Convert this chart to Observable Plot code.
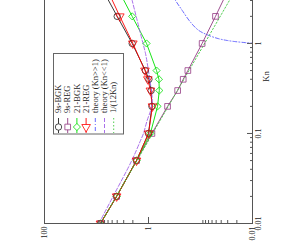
<!DOCTYPE html>
<html><head><meta charset="utf-8">
<script src="https://cdn.jsdelivr.net/npm/d3@7"></script>
<script src="https://cdn.jsdelivr.net/npm/@observablehq/plot@0.6"></script>
<style>html,body{margin:0;padding:0;background:#fff;overflow:hidden}</style>
</head><body><div id="chart"></div>
<script>
// Knudsen numbers of the simulated points
const kn = [0.01, 0.02, 0.05, 0.1, 0.2, 0.3, 0.4, 0.5, 1, 2, 5];
const bgk9  = [8.4, 4.1, 1.7, 1.0, 0.86, 0.89, 0.98, 1.15, 2.06, 4.0, 9.5];
const reg9  = [8.4, 4.1, 1.7, 0.86, 0.43, 0.275, 0.215, 0.175, 0.093, 0.0515, 0.024];
const bgk21 = [8.4, 4.1, 1.7, 0.92, 0.67, 0.62, 0.63, 0.70, 1.09, 2.06, 4.7];
const reg21 = [8.4, 4.1, 1.7, 1.0, 0.84, 0.92, 1.03, 1.17, 2.0, 3.56, 7.5];
// theory curves
const lowKn  = [0.01, 0.02, 0.05, 0.083, 0.1, 0.14, 0.18, 0.23, 0.3, 0.39, 0.55, 0.77, 1.08, 1.8, 3, 5];
const lowVal = [9.0, 4.8, 2.1, 1.43, 1.25, 1.06, 0.91, 0.85, 0.88, 0.94, 1.03, 1.14, 1.32, 1.65, 2.06, 2.56];
const highKn  = [1.0, 1.02, 1.05, 1.08, 1.128, 1.227, 1.395, 1.725, 2.33, 3.0, 4.0];
const highVal = [0.009, 0.0135, 0.022, 0.031, 0.0446, 0.069, 0.108, 0.156, 0.225, 0.302, 0.4];
const asymKn  = [0.01, 5];
const asymVal = [8.33, 0.0167];
// ticks
const xMajor = [100, 1, 0.01];
const xMinor = [9, 8, 7, 6, 5, 4, 3, 2, 0.09, 0.08, 0.07, 0.06, 0.05, 0.04, 0.03, 0.02];
const yMajor = [0.01, 0.1, 1];
const yMinor = [0.02, 0.03, 0.04, 0.05, 0.06, 0.07, 0.08, 0.09, 0.2, 0.3, 0.4, 0.5, 0.6, 0.7, 0.8, 0.9, 2, 3];

const rows = (ks, vs) => ks.map((k, i) => ({kn: k, v: vs[i]}));
const series = [
  {label: "9s-BGK", data: rows(kn, bgk9), color: "#222222", symbol: "circle", d3s: d3.symbolCircle, rot: 0},
  {label: "9s-REG", data: rows(kn, reg9), color: "#933a83", symbol: "square", d3s: d3.symbolSquare, rot: 0},
  {label: "21-BGK", data: rows(kn, bgk21), color: "#00e000", symbol: "diamond2", d3s: d3.symbolDiamond2, rot: 0},
  {label: "21-REG", data: rows(kn, reg21), color: "#ff0000", symbol: "triangle", d3s: d3.symbolTriangle, rot: 180}
];
const theories = [
  {label: "theory (Kn>>1)", data: rows(highKn, highVal), color: "#5a5aff", dash: "4,2,1,2"},
  {label: "theory (Kn<<1)", data: rows(lowKn, lowVal), color: "#a060e8", dash: "4,2"},
  {label: "1/(12Kn)", data: rows(asymKn, asymVal), color: "#40c840", dash: "1.5,2"}
];
const frameColor = "#555";
const serif = "Liberation Serif, Times New Roman, serif";
const R = 3.2;

const marks = [];
for (const s of series) {
  marks.push(Plot.line(s.data, {x: "v", y: "kn", stroke: s.color, strokeWidth: 0.9, clip: true}));
}
for (const t of theories) {
  marks.push(Plot.line(t.data, {x: "v", y: "kn", stroke: t.color, strokeWidth: 0.9, strokeDasharray: t.dash, curve: "catmull-rom", clip: true}));
}
for (const s of series) {
  marks.push(Plot.dot(s.data, {x: "v", y: "kn", symbol: s.symbol, r: R, rotate: s.rot, stroke: s.color, fill: "none", strokeWidth: 0.8, clip: true}));
}
marks.push(
  Plot.ruleX([xMajor[0], xMajor[xMajor.length - 1]], {stroke: frameColor}),
  Plot.ruleY([yMajor[0]], {stroke: frameColor}),
  Plot.axisX(xMajor, {anchor: "bottom", tickSize: -6, tickFormat: () => "", label: null, stroke: frameColor}),
  Plot.axisX(xMinor, {anchor: "bottom", tickSize: -3, tickFormat: () => "", label: null, stroke: frameColor}),
  Plot.axisY(yMajor, {anchor: "right", tickSize: -6, tickFormat: () => "", label: null, stroke: frameColor}),
  Plot.axisY(yMinor, {anchor: "right", tickSize: -3, tickFormat: () => "", label: null, stroke: frameColor}),
  Plot.text(xMajor, {x: d => d, frameAnchor: "bottom", rotate: -90, textAnchor: "end", lineAnchor: "middle", dy: 3, text: d => String(d), fontSize: 8, fill: "#222"}),
  Plot.text(yMajor, {y: d => d, frameAnchor: "right", rotate: -90, textAnchor: "middle", lineAnchor: "top", dx: 3, text: d => String(d), fontSize: 8, fill: "#222"}),
  Plot.text(["Kn"], {frameAnchor: "top-right", dx: 13.5, dy: 76, rotate: -90, textAnchor: "middle", lineAnchor: "middle", fontSize: 8.5, fill: "#222"})
);

const chart = Plot.plot({
  width: 299, height: 244,
  marginLeft: 44, marginRight: 47, marginTop: 0, marginBottom: 21,
  x: {type: "log", domain: [xMajor[0], xMajor[xMajor.length - 1]], label: null},
  y: {type: "log", domain: [yMajor[0], 3], label: null},
  style: {fontFamily: serif, background: "white", overflow: "visible"},
  marks
});
document.getElementById("chart").appendChild(chart);

// legend (rotated like the chart)
const g = d3.select(chart).append("g").attr("font-family", serif).attr("font-size", 8.5)
  .attr("fill", "#222").attr("text-anchor", "start");
g.append("rect").attr("x", 53.5).attr("y", 53.5).attr("width", 70).attr("height", 80.5)
  .attr("fill", "white").attr("stroke", "#666").attr("stroke-width", 1);
const items = [...series, ...theories];
items.forEach((it, i) => {
  const cx = 58.5 + i * 9.2;
  g.append("line").attr("x1", cx).attr("x2", cx).attr("y1", 118).attr("y2", 133)
    .attr("stroke", it.color).attr("stroke-width", 0.9).attr("stroke-dasharray", it.dash || null);
  if (it.d3s) {
    g.append("path").attr("transform", `translate(${cx},127) rotate(${it.rot})`)
      .attr("d", d3.symbol(it.d3s, Math.PI * R * R)())
      .attr("fill", "white").attr("stroke", it.color).attr("stroke-width", 0.8);
  }
  g.append("text").attr("transform", `translate(${cx},113) rotate(-90)`).attr("dy", "0.32em")
    .attr("text-anchor", "start").text(it.label);
});
</script></body></html>
